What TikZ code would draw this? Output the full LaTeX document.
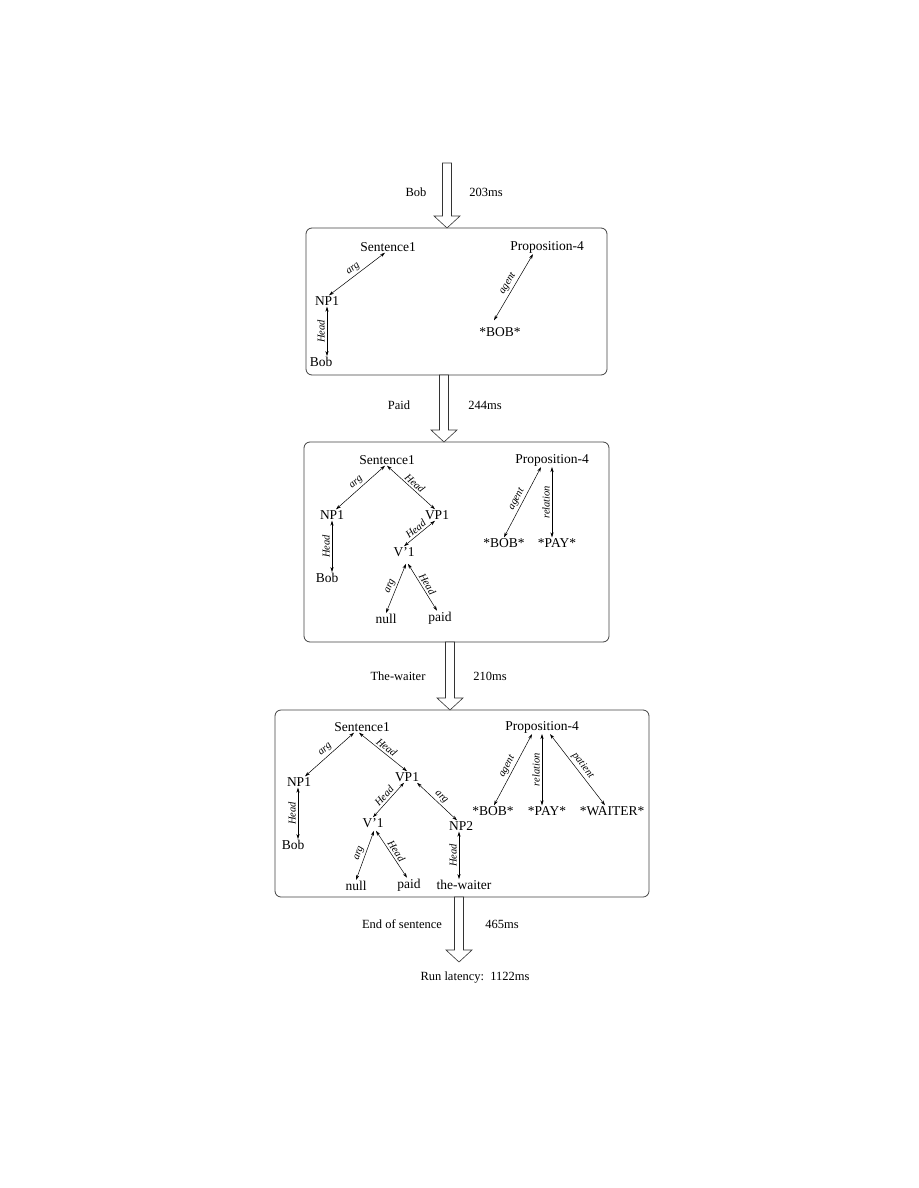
\documentclass[tikz,border=0pt]{standalone}
\usepackage{fontspec}
\setmainfont{Liberation Serif}
\usetikzlibrary{arrows.meta, calc}

% hollow arrow between two boxes: #1 = top of shaft, #2 = tip
\newcommand{\flowarrow}[2]{%
  \draw[flow] ($(#1)+(-4.5,0)$) -- ($(#2)+(-4.5,-12)$) -- ($(#2)+(-13,-12)$) -- (#2)
    -- ($(#2)+(13,-12)$) -- ($(#2)+(4.5,-12)$) -- ($(#1)+(4.5,0)$) -- cycle;}

\begin{document}
\begin{tikzpicture}[
    x=1pt, y=-1pt,
    word/.style={inner sep=1pt, font=\fontsize{13.5}{15}\selectfont},
    cue/.style={inner sep=1pt, font=\fontsize{12.5}{14}\selectfont},
    lab/.style={inner sep=0.5pt, font=\fontsize{10.5}{12}\selectfont\itshape,
                midway, sloped, above=1.5pt},
    rel/.style={<->, >={Stealth[length=5pt, width=3.2pt]}, line width=0.5pt},
    frame/.style={draw=black!75, line width=0.8pt, rounded corners=6pt,
                  inner sep=0pt, outer sep=0pt},
    flow/.style={draw=black!80, line width=0.6pt, fill=white}
]
\useasboundingbox (0,0) rectangle (918,1188);

% Boxes
\node[frame, minimum width=301pt, minimum height=147pt] (boxA) at (456.5,301.5) {};
\node[frame, minimum width=305pt, minimum height=200pt] (boxB) at (456.5,542) {};
\node[frame, minimum width=374pt, minimum height=187pt] (boxC) at (462,803.5) {};

% Flow between the boxes
\coordinate (topA) at (447,163);
\coordinate (tipA) at (topA |- boxA.north);
\coordinate (topB) at (444,0 |- boxA.south);
\coordinate (tipB) at (topB |- boxB.north);
\coordinate (topC) at (450,0 |- boxB.south);
\coordinate (tipC) at (topC |- boxC.north);
\coordinate (topD) at (459,0 |- boxC.south);
\coordinate (tipD) at (459,962);
\flowarrow{topA}{tipA}
\flowarrow{topB}{tipB}
\flowarrow{topC}{tipC}
\flowarrow{topD}{tipD}

\node[cue] (wordA) at (416,192) {Bob};
\node[cue] (timeA) at (486,192) {203ms};
\node[cue] (wordB) at (399,405) {Paid};
\node[cue] (timeB) at (485,405) {244ms};
\node[cue] (wordC) at (398,676) {The-waiter};
\node[cue] (timeC) at (490,676) {210ms};
\node[cue] (wordD) at (402,924) {End of sentence};
\node[cue] (timeD) at (502,924) {465ms};
\node[cue] (run) at (475,978) {Run latency:\enspace 1122ms};

% Box A: after "Bob"
\node[word] (sA) at (388,247) {Sentence1};
\node[word] (pA) at (547,247) {Proposition-4};
\node[word] (npA) at (327,301) {NP1};
\node[word] (bobA) at (321,362) {Bob};
\node[word] (BOBA) at (500,332) {*BOB*};

\draw[rel] ([xshift=-3pt]sA.south) -- ([xshift=2pt]npA.north) node[lab] {arg};
\draw[rel] ([xshift=6pt]bobA.north) -- (npA.south) node[lab] {Head};
\draw[rel] ([xshift=-14pt]pA.south) -- ([xshift=-6pt,yshift=6pt]BOBA.north) node[lab] {agent};

% Box B: after "Paid"
\node[word] (sB) at (387,460) {Sentence1};
\node[word] (pB) at (552,460) {Proposition-4};
\node[word] (npB) at (332,515) {NP1};
\node[word] (vpB) at (437,515) {VP1};
\node[word] (vB) at (404,552) {V’1};
\node[word] (bobB) at (327,578) {Bob};
\node[word] (nullB) at (386,619) {null};
\node[word] (paidB) at (440,618) {paid};
\node[word] (BOBB) at (504,543) {*BOB*};
\node[word] (PAYB) at (557,543) {*PAY*};

\draw[rel] ([xshift=-2pt]sB.south) -- ([xshift=4pt]npB.north) node[lab] {arg};
\draw[rel] (sB.south) -- ([xshift=-2pt]vpB.north) node[lab] {Head};
\draw[rel] ([xshift=5pt]bobB.north) -- (npB.south) node[lab] {Head};
\draw[rel] ([xshift=-2pt]vpB.south) -- (vB.north) node[lab] {Head};
\draw[rel] ([xshift=2pt,yshift=-6pt]vB.south) -- (nullB.north) node[lab] {arg};
\draw[rel] ([xshift=4pt,yshift=-6pt]vB.south) -- ([xshift=-3pt]paidB.north) node[lab] {Head};
\draw[rel] ([xshift=-11pt]pB.south) -- (BOBB.north) node[lab] {agent};
\draw[rel] ([xshift=-5pt]PAYB.north) -- (pB.south) node[lab] {relation};

% Box C: after "The-waiter"
\node[word] (sC) at (362,727) {Sentence1};
\node[word] (pC) at (542,727) {Proposition-4};
\node[word] (npC) at (299,782) {NP1};
\node[word] (vpC) at (407,777) {VP1};
\node[word] (vC) at (373,823) {V’1};
\node[word] (np2C) at (461,826) {NP2};
\node[word] (bobC) at (293,845) {Bob};
\node[word] (nullC) at (356,886) {null};
\node[word] (paidC) at (409,885) {paid};
\node[word] (waiterC) at (464,885) {the-waiter};
\node[word] (BOBC) at (493,811) {*BOB*};
\node[word] (PAYC) at (547,811) {*PAY*};
\node[word] (WAITERC) at (612,811) {*WAITER*};

\draw[rel] ([xshift=-8pt]sC.south) -- ([xshift=6pt]npC.north) node[lab] {arg};
\draw[rel] ([xshift=-3pt]sC.south) -- (vpC.north) node[lab] {Head};
\draw[rel] ([xshift=5pt]bobC.north) -- ([xshift=-1pt]npC.south) node[lab] {Head};
\draw[rel] ([xshift=-3pt]vpC.south) -- (vC.north) node[lab] {Head};
\draw[rel] ([xshift=10pt]vpC.south) -- ([xshift=-4pt]np2C.north) node[lab] {arg};
\draw[rel] ([xshift=1pt,yshift=-2pt]vC.south) -- (nullC.north) node[lab] {arg};
\draw[rel] ([xshift=3pt,yshift=-2pt]vC.south) -- ([xshift=-2pt]paidC.north) node[lab] {Head};
\draw[rel] ([xshift=-5pt]waiterC.north) -- ([xshift=-2pt]np2C.south) node[lab] {Head};
\draw[rel] ([xshift=-10pt]pC.south) -- ([xshift=1pt]BOBC.north) node[lab] {agent};
\draw[rel] ([xshift=-5pt]PAYC.north) -- (pC.south) node[lab] {relation};
\draw[rel] ([xshift=8pt]pC.south) -- ([xshift=-7pt]WAITERC.north) node[lab] {patient};

\end{tikzpicture}
\end{document}
